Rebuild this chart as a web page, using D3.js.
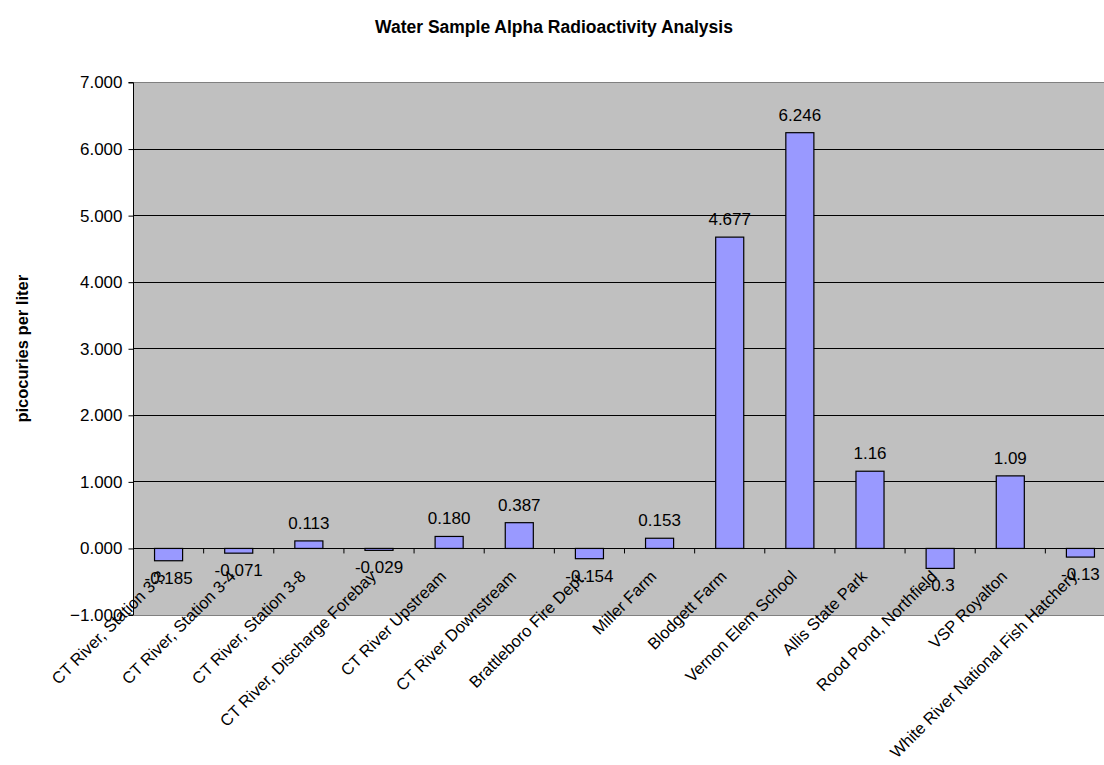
<!DOCTYPE html>
<html>
<head>
<meta charset="utf-8">
<script src="https://cdn.jsdelivr.net/npm/d3@7"></script>
<style>
  html, body { margin: 0; padding: 0; background: #fff; overflow: hidden; }
  svg { display: block; font-family: "Liberation Sans", Arial, sans-serif; }
</style>
</head>
<body>
<svg id="chart" width="1104" height="765"></svg>
<script>
// Sampling sites and measured gross alpha activity (pCi/L)
const sites = [
  "CT River, Station 3-3",
  "CT River, Station 3-4",
  "CT River, Station 3-8",
  "CT River, Discharge Forebay",
  "CT River Upstream",
  "CT River Downstream",
  "Brattleboro Fire Dept.",
  "Miller Farm",
  "Blodgett Farm",
  "Vernon Elem School",
  "Allis State Park",
  "Rood Pond, Northfield",
  "VSP Royalton",
  "White River National Fish Hatchery"
];
const alphaValues = [-0.185, -0.071, 0.113, -0.029, 0.180, 0.387, -0.154, 0.153, 4.677, 6.246, 1.16, -0.3, 1.09, -0.13];
// Labels as they are printed above/below each bar
const valueLabels = ["-0.185", "-0.071", "0.113", "-0.029", "0.180", "0.387", "-0.154", "0.153", "4.677", "6.246", "1.16", "-0.3", "1.09", "-0.13"];
const yTicks = [-1, 0, 1, 2, 3, 4, 5, 6, 7];

const chartTitle = "Water Sample Alpha Radioactivity Analysis";
const yTitle = "picocuries per liter";

const svg = d3.select("#chart");
const plot = { left: 133.5, right: 1115.5, top: 82.5, bottom: 615 };
const fontSize = 17;

const x = d3.scaleBand().domain(sites).range([plot.left, plot.right]).paddingInner(0.6).paddingOuter(0.3);
const xTick = d3.scaleBand().domain(sites).range([plot.left, plot.right]);
const y = d3.scaleLinear().domain([-1, 7]).range([plot.bottom, plot.top]);

// plot background
svg.append("rect")
  .attr("x", plot.left).attr("y", plot.top)
  .attr("width", plot.right - plot.left).attr("height", plot.bottom - plot.top)
  .attr("fill", "#c0c0c0");

// horizontal gridlines
svg.append("g")
  .selectAll("line")
  .data(yTicks.filter(d => d > -1 && d < 7))
  .join("line")
  .attr("x1", plot.left).attr("x2", plot.right)
  .attr("y1", d => y(d)).attr("y2", d => y(d))
  .attr("stroke", "#000").attr("stroke-width", 1)
  .attr("shape-rendering", "crispEdges");

// plot frame top / bottom
svg.append("line").attr("x1", plot.left).attr("x2", plot.right)
  .attr("y1", plot.top).attr("y2", plot.top)
  .attr("stroke", "#808080").attr("shape-rendering", "crispEdges");
svg.append("line").attr("x1", plot.left).attr("x2", plot.right)
  .attr("y1", plot.bottom).attr("y2", plot.bottom)
  .attr("stroke", "#808080").attr("shape-rendering", "crispEdges");

// bars
svg.append("g")
  .selectAll("rect")
  .data(alphaValues)
  .join("rect")
  .attr("x", (d, i) => x(sites[i]))
  .attr("width", x.bandwidth())
  .attr("y", d => y(Math.max(0, d)))
  .attr("height", d => Math.abs(y(d) - y(0)))
  .attr("fill", "#9999ff")
  .attr("stroke", "#000")
  .attr("stroke-width", 1.2);

// y axis
const yAxis = d3.axisLeft(y).tickValues(yTicks).tickFormat(d3.format(".3f")).tickSize(5).tickPadding(6);
const gy = svg.append("g").attr("transform", `translate(${plot.left},0)`).call(yAxis);
gy.select(".domain").attr("stroke", "#000").attr("d", `M-5,${plot.top}H0V${plot.bottom}H-5`);
gy.selectAll(".tick line").attr("stroke", "#000");
gy.selectAll("text").attr("font-size", fontSize).attr("fill", "#000").attr("font-family", "Liberation Sans, Arial, sans-serif");

// category axis along zero line
const ticksX = sites.map(s => xTick(s)).concat([plot.right]);
svg.append("line").attr("x1", plot.left).attr("x2", plot.right)
  .attr("y1", y(0)).attr("y2", y(0)).attr("stroke", "#000").attr("shape-rendering", "crispEdges");
svg.append("g").selectAll("line").data(ticksX).join("line")
  .attr("x1", d => d).attr("x2", d => d)
  .attr("y1", y(0)).attr("y2", y(0) + 5)
  .attr("stroke", "#000");

// category labels, rotated
svg.append("g").selectAll("text").data(sites).join("text")
  .attr("transform", d => `translate(${xTick(d) + xTick.bandwidth() / 2 - 2},${y(0) + 29}) rotate(-45)`)
  .attr("text-anchor", "end")
  .attr("font-size", 16.5)
  .attr("fill", "#000")
  .text(d => d);

// value labels
svg.append("g").selectAll("text").data(alphaValues).join("text")
  .attr("x", (d, i) => x(sites[i]) + x.bandwidth() / 2)
  .attr("y", d => d >= 0 ? y(d) - 12 : y(d) + 23)
  .attr("text-anchor", "middle")
  .attr("font-size", fontSize)
  .attr("fill", "#000")
  .text((d, i) => valueLabels[i]);

// titles
svg.append("text").attr("x", 554).attr("y", 33).attr("text-anchor", "middle")
  .attr("font-size", 17.5).attr("font-weight", "bold").text(chartTitle);
svg.append("text").attr("transform", `translate(28,${(plot.top + plot.bottom) / 2}) rotate(-90)`)
  .attr("text-anchor", "middle").attr("font-size", 16.5).attr("font-weight", "bold").text(yTitle);
</script>
</body>
</html>
